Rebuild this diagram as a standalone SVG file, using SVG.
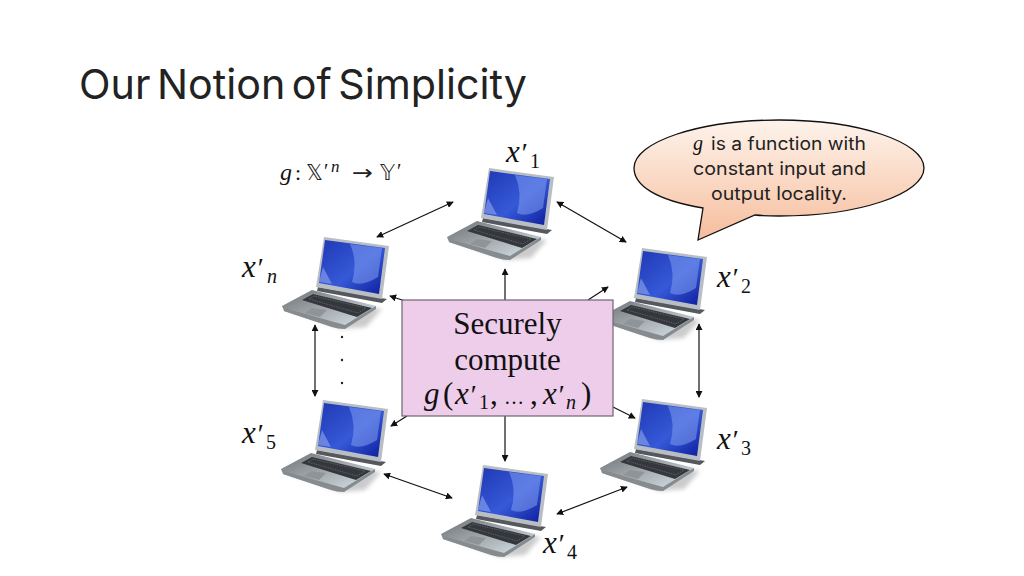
<svg xmlns="http://www.w3.org/2000/svg" width="1024" height="576" viewBox="0 0 1024 576">
<style>
.c{stroke:#111;stroke-width:1.2;fill:none;marker-end:url(#a)}
.d{marker-start:url(#b)}
.m{font-family:"Liberation Serif","DejaVu Serif",serif;font-style:italic;fill:#111}
.s{font-family:"Liberation Serif","DejaVu Serif",serif;fill:#111}
.t{font-family:Inter,"Noto Sans",sans-serif;fill:#222}
.x{font-size:31px}
.p{font-size:28px}
.n{font-size:20px}
.b{font-size:18px}
</style>
<defs>
<marker id="a" viewBox="0 0 8 8" refX="7" refY="4" markerWidth="7" markerHeight="7" markerUnits="userSpaceOnUse" orient="auto"><path d="M0 0L8 4L0 8z" fill="#111"/></marker>
<marker id="b" viewBox="0 0 8 8" refX="1" refY="4" markerWidth="7" markerHeight="7" markerUnits="userSpaceOnUse" orient="auto"><path d="M8 0L0 4L8 8z" fill="#111"/></marker>
<linearGradient id="bub" x1="0" y1="0" x2="0" y2="1"><stop offset="0" stop-color="#fdf3ec"/><stop offset="0.55" stop-color="#fad6c0"/><stop offset="1" stop-color="#f6bc9d"/></linearGradient>
<linearGradient id="scr" x1="0" y1="0" x2="1" y2="1"><stop offset="0" stop-color="#2038b4"/><stop offset="0.55" stop-color="#3559d8"/><stop offset="1" stop-color="#0e1c9a"/></linearGradient>
<linearGradient id="base" x1="0" y1="0" x2="1" y2="1"><stop offset="0" stop-color="#6d7175"/><stop offset="0.55" stop-color="#adb3b7"/><stop offset="1" stop-color="#dcebf3"/></linearGradient>
<filter id="sh" x="-20%" y="-20%" width="140%" height="140%"><feGaussianBlur stdDeviation="2"/></filter>
<g id="laptop">
<path d="M20 62L100 72L84 90L60 92L4 72z" fill="#555" opacity=".3" filter="url(#sh)"/>
<path d="M0 69L30 53L94 69L63 92Q56 92 50 90L2 74z" fill="url(#base)"/>
<path d="M2 74L50 90Q56 92 63 92L94 72L94 69L63 88L2 71z" fill="#868b8f"/>
<path d="M20 63L31 57L90 71L75 80z" fill="#34383c"/>
<path d="M27 62L32 59L84 71L76 76z" fill="none" stroke="#6c7074" stroke-width=".7" stroke-dasharray="1.5 1"/>
<path d="M30 71L45 73L38 80L23 76z" fill="#8f9498"/>
<path d="M36 50L105 62L100 66L35 54z" fill="#55585c"/>
<path d="M42 0L107 9L100 62L34 50z" fill="#b8bec4"/>
<path d="M43 3L103 11L97 57L37 46z" fill="url(#scr)"/>
<path d="M68 7L100 11L96 40Q80 50 70 45Q76 25 68 7z" fill="#7f9df0" opacity=".55"/>
<path d="M41 30L50 47L37 45z" fill="#a3b7f2" opacity=".5"/>
</g>
</defs>
<rect width="1024" height="576" fill="#fff"/>
<text class="t" x="79" y="99" font-size="41" word-spacing="-5" textLength="448" lengthAdjust="spacingAndGlyphs">Our Notion of Simplicity</text>
<g id="formula">
<text class="m" x="280" y="180" font-size="24">g</text><text class="s" x="295" y="180" font-size="22">:</text>
<text x="306" y="180" font-size="21" font-family="DejaVu Sans,sans-serif" fill="#222">𝕏</text><text class="s" x="324" y="178" font-size="20">′</text><text class="m" x="331" y="172" font-size="17">n</text>
<text x="352" y="180" font-size="21" font-family="DejaVu Sans,sans-serif" fill="#222" textLength="21" lengthAdjust="spacingAndGlyphs">→</text>
<text x="380" y="180" font-size="21" font-family="DejaVu Sans,sans-serif" fill="#222">𝕐</text><text class="s" x="397" y="178" font-size="20">′</text>
</g>
<g id="laptop1"><use href="#laptop" x="447" y="168"/><text class="m x" x="506" y="162">x</text><text class="m p" x="520" y="162">′</text><text class="s n" x="530" y="168">1</text></g>
<g id="laptop2"><use href="#laptop" x="600" y="248"/><text class="m x" x="717" y="287">x</text><text class="m p" x="731" y="287">′</text><text class="s n" x="741" y="293">2</text></g>
<g id="laptop3"><use href="#laptop" x="600" y="399"/><text class="m x" x="717" y="449">x</text><text class="m p" x="731" y="449">′</text><text class="s n" x="741" y="455">3</text></g>
<g id="laptop4"><use href="#laptop" x="441" y="465"/><text class="m x" x="543" y="553">x</text><text class="m p" x="557" y="553">′</text><text class="s n" x="567" y="559">4</text></g>
<g id="laptop5"><use href="#laptop" x="281" y="400"/><text class="m x" x="242" y="443">x</text><text class="m p" x="256" y="443">′</text><text class="s n" x="266" y="449">5</text></g>
<g id="laptopn"><use href="#laptop" x="282" y="237"/><text class="m x" x="242" y="277">x</text><text class="m p" x="256" y="277">′</text><text class="m n" x="267" y="283">n</text></g>
<g id="connectors">
<path class="c d" d="M453 202L377 237"/>
<path class="c d" d="M557 202L626 242"/>
<path class="c d" d="M699 324L699 397"/>
<path class="c d" d="M627 487L557 514"/>
<path class="c d" d="M452 498L384 474"/>
<path class="c d" d="M315 396L315 325"/>
<path class="c" d="M505 300L505 269"/>
<path class="c" d="M588 300L608 287"/>
<path class="c" d="M405 301L390 296"/>
<path class="c" d="M613 407L635 418"/>
<path class="c" d="M407 416L391 426"/>
<path class="c" d="M505 416L505 461"/>
</g>
<g id="dots" fill="#222"><circle cx="342" cy="337" r="1.2"/><circle cx="342" cy="360" r="1.2"/><circle cx="342" cy="383" r="1.2"/></g>
<g id="box"><rect x="402" y="300" width="211" height="116" fill="#eecdea" stroke="#6e6470" stroke-width="1.2"/>
<text class="s" x="507.500" y="334" font-size="31" text-anchor="middle">Securely</text>
<text class="s" x="507.500" y="370" font-size="31" text-anchor="middle">compute</text>
<g font-size="31">
<text class="m" x="424" y="404">g</text><text class="s" x="443" y="404">(</text><text class="m" x="455" y="404">x</text><text class="m" x="469" y="404" font-size="28">′</text><text class="s n" x="479" y="409">1</text><text class="s" x="490" y="404">,</text><text class="s" x="504" y="404" font-size="20">…</text><text class="s" x="530" y="404">,</text><text class="m" x="543" y="404">x</text><text class="m" x="557" y="404" font-size="28">′</text><text class="m n" x="566" y="409">n</text><text class="s" x="581" y="404">)</text>
</g></g>
<g id="bubble"><path d="M703 208C655 200 634 185 634 168C634 142 699 120 779 120C859 120 924 142 924 168C924 194 859 216 779 216Q765 216 755 215L698 240z" fill="url(#bub)" stroke="#111" stroke-width="1.3"/>
<text class="m" x="693" y="150" font-size="20">g</text>
<text class="t b" x="711" y="150" textLength="155" lengthAdjust="spacingAndGlyphs">is a function with</text>
<text class="t b" x="693" y="175" textLength="173" lengthAdjust="spacingAndGlyphs">constant input and</text>
<text class="t b" x="711" y="200" textLength="136" lengthAdjust="spacingAndGlyphs">output locality.</text></g>
</svg>
